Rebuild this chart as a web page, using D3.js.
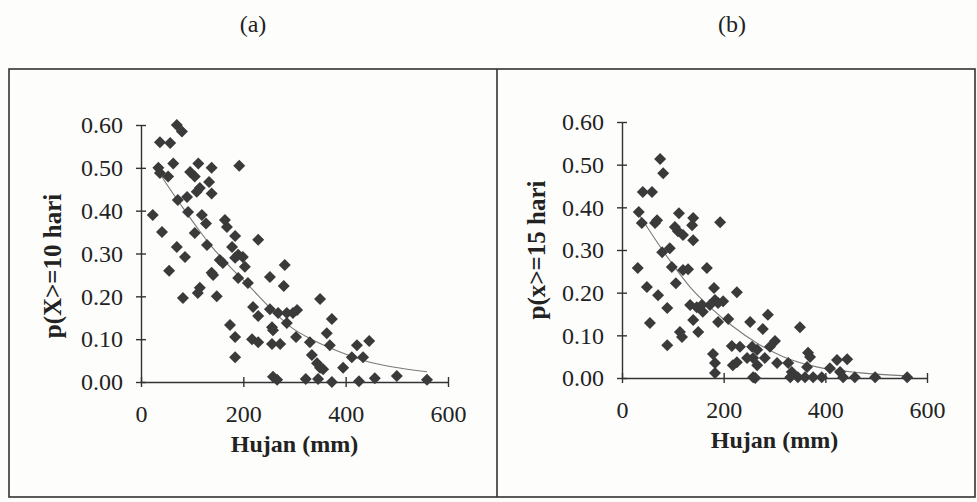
<!DOCTYPE html>
<html><head><meta charset="utf-8">
<script src="https://cdn.jsdelivr.net/npm/d3@7"></script>
<style>
html,body{margin:0;padding:0;background:#fdfdfc;}
svg{display:block;}
text{font-family:"Liberation Serif","Times New Roman",serif;fill:#222;}
</style></head>
<body>
<svg id="chart" width="977" height="502"></svg>
<script>
// ---- data ----
const panelLabels = ["(a)", "(b)"];
const xTitle = "Hujan (mm)";
const yTitles = ["p(X>=10 hari", "p(x>=15 hari"];
const xTicks = [0, 200, 400, 600];
const yTicks = [0, 0.1, 0.2, 0.3, 0.4, 0.5, 0.6];

const rainA = [70,80,37,57,34,63,112,138,192,37,53,96,105,133,115,109,72,90,138,23,92,119,127,164,168,41,105,184,229,70,129,178,86,55,154,160,184,190,199,203,281,138,141,190,209,252,279,115,111,82,148,350,219,229,252,268,285,297,305,285,373,174,184,256,258,217,229,256,272,303,330,363,369,422,446,184,334,412,434,344,350,356,395,258,266,322,346,373,426,457,500,559];
const probA = [0.600,0.585,0.560,0.558,0.500,0.510,0.510,0.500,0.505,0.488,0.480,0.490,0.480,0.467,0.453,0.444,0.425,0.432,0.440,0.390,0.397,0.390,0.370,0.378,0.362,0.350,0.348,0.341,0.332,0.315,0.320,0.315,0.292,0.260,0.285,0.278,0.290,0.297,0.292,0.269,0.273,0.255,0.250,0.243,0.231,0.245,0.224,0.220,0.208,0.196,0.200,0.194,0.175,0.154,0.170,0.161,0.161,0.161,0.168,0.138,0.147,0.133,0.105,0.128,0.121,0.100,0.093,0.089,0.089,0.105,0.093,0.114,0.086,0.086,0.096,0.058,0.063,0.058,0.058,0.044,0.033,0.030,0.033,0.012,0.005,0.007,0.007,0.000,0.002,0.009,0.014,0.005];

const rainB = [75,81,41,59,33,39,65,69,112,140,138,104,110,120,140,193,79,94,31,98,120,130,167,49,71,106,181,226,89,134,147,157,159,173,183,189,199,55,140,189,209,252,287,350,114,118,150,89,277,216,232,256,266,291,301,179,183,183,218,226,246,258,266,258,262,281,305,327,334,331,346,366,370,364,360,376,393,409,423,443,429,435,458,498,561];
const probB = [0.513,0.480,0.436,0.436,0.389,0.363,0.363,0.370,0.386,0.375,0.358,0.354,0.344,0.335,0.323,0.365,0.295,0.304,0.258,0.260,0.253,0.255,0.258,0.213,0.194,0.222,0.211,0.201,0.164,0.171,0.166,0.171,0.155,0.171,0.183,0.176,0.180,0.129,0.136,0.131,0.138,0.131,0.148,0.119,0.108,0.096,0.108,0.077,0.115,0.075,0.073,0.073,0.066,0.073,0.087,0.056,0.035,0.012,0.030,0.037,0.047,0.047,0.030,0.002,0.000,0.047,0.035,0.035,0.014,0.002,0.002,0.059,0.049,0.026,0.002,0.002,0.002,0.023,0.042,0.044,0.014,0.002,0.002,0.002,0.002];

// trend lines, read as knots from the picture
const trendRainA = [30,43,80,115,139,174,213,252,291,336,389,442,493,559];
const trendProbA = [0.50,0.475,0.41,0.352,0.315,0.269,0.222,0.173,0.130,0.098,0.070,0.048,0.035,0.024];
const trendRainB = [30,51,98,134,173,219,265,317,383,469,561];
const trendProbB = [0.39,0.351,0.269,0.213,0.166,0.120,0.082,0.050,0.026,0.012,0.005];

// ---- drawing ----
const svg = d3.select("#chart");
const ink = "#333";

svg.append("rect").attr("x",9).attr("y",69).attr("width",966).attr("height",428)
  .attr("fill","none").attr("stroke",ink).attr("stroke-width",1.6);
svg.append("line").attr("x1",497).attr("x2",497).attr("y1",69).attr("y2",497)
  .attr("stroke",ink).attr("stroke-width",1.6);

const panels = [
  {label:panelLabels[0], lx:253, yt:yTitles[0], x0:141, x1:448, y0:382, y1:125, rain:rainA, prob:probA, tr:trendRainA, tp:trendProbA, ytx:61, yty:266},
  {label:panelLabels[1], lx:732, yt:yTitles[1], x0:622, x1:927, y0:378, y1:122, rain:rainB, prob:probB, tr:trendRainB, tp:trendProbB, ytx:545, yty:250}
];

panels.forEach(p => {
  const x = d3.scaleLinear().domain([0,600]).range([p.x0,p.x1]);
  const y = d3.scaleLinear().domain([0,0.6]).range([p.y0,p.y1]);

  svg.append("text").attr("x",p.lx).attr("y",32).attr("text-anchor","middle")
    .attr("font-size",24).text(p.label);

  // trend line
  const tdata = p.tr.map((r,i)=>[r,p.tp[i]]);
  svg.append("path").datum(tdata)
    .attr("d", d3.line().x(d=>x(d[0])).y(d=>y(d[1])).curve(d3.curveMonotoneX))
    .attr("fill","none").attr("stroke","#7a7a7a").attr("stroke-width",1.1);

  // axes
  const gy = svg.append("g").attr("transform",`translate(${p.x0},0)`)
    .call(d3.axisLeft(y).tickValues(yTicks).tickFormat(d3.format(".2f"))
      .tickSizeInner(5).tickSizeOuter(0).tickPadding(13));
  const gx = svg.append("g").attr("transform",`translate(0,${p.y0})`)
    .call(d3.axisBottom(x).tickValues(xTicks).tickFormat(d3.format("d"))
      .tickSizeInner(5).tickSizeOuter(0).tickPadding(18));
  [gy,gx].forEach(g=>{
    g.select(".domain").attr("stroke",ink).attr("stroke-width",1.4);
    g.selectAll(".tick line").attr("stroke",ink).attr("stroke-width",1.4);
    g.selectAll(".tick text").attr("font-size",24)
      .attr("font-family","'Liberation Serif','Times New Roman',serif").attr("fill","#222");
  });
  gy.selectAll(".tick line").attr("x1",5);
  gx.selectAll(".tick line").attr("y1",-5);

  // points
  const pts = p.rain.map((r,i)=>[r,p.prob[i]]);
  svg.append("g").selectAll("path").data(pts).join("path")
    .attr("d", d3.symbol(d3.symbolSquare, 72)())
    .attr("transform", d=>`translate(${x(d[0])},${y(d[1])}) rotate(45)`)
    .attr("fill","#3a3a3a");

  // titles
  svg.append("text").attr("x",(p.x0+p.x1)/2).attr("y",p.y0+70).attr("text-anchor","middle")
    .attr("font-size",24).attr("font-weight","bold").text(xTitle);
  svg.append("text").attr("transform",`translate(${p.ytx},${p.yty}) rotate(-90)`)
    .attr("text-anchor","middle").attr("font-size",25).attr("font-weight","bold").text(p.yt);
});
</script>
</body></html>
